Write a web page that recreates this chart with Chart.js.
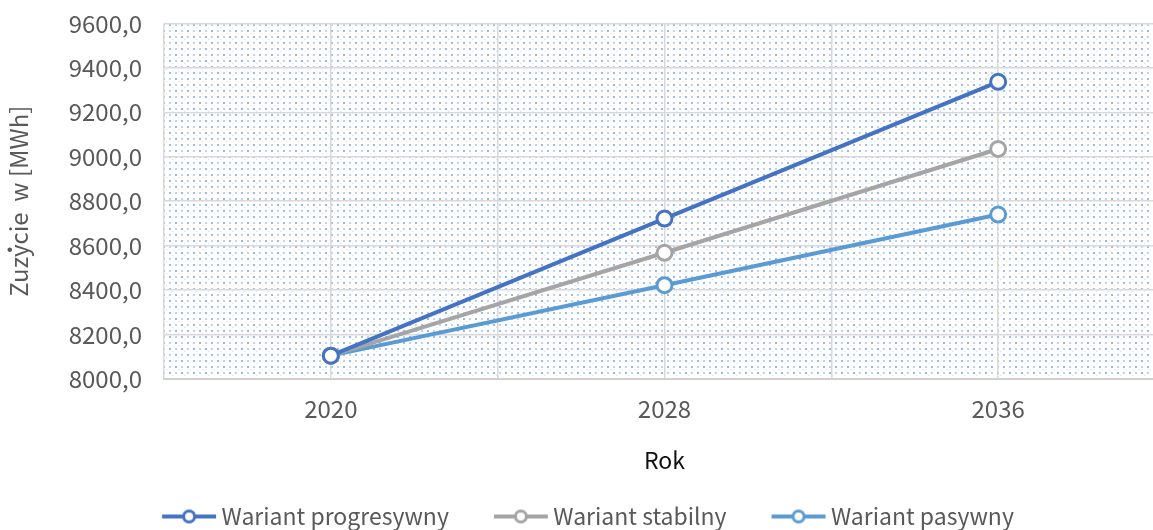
<!DOCTYPE html>
<html>
<head>
<meta charset="utf-8">
<script src="https://cdn.jsdelivr.net/npm/chart.js@4/dist/chart.umd.min.js"></script>
<style>
  html, body { margin: 0; padding: 0; background: #fff; overflow: hidden; }
  #wrap { width: 1153px; height: 530px; overflow: hidden; position: relative; }
  #chart { position: absolute; left: 0; top: -13px; }
</style>
</head>
<body>
<div id="wrap"><canvas id="chart" width="1180" height="551"></canvas></div>
<script>
// dane
const years = [2020, 2028, 2036];
const progresywny = [8105, 8722, 9337];
const stabilny = [8105, 8568, 9035];
const pasywny = [8105, 8422, 8740];
const seriesNames = ["Wariant progresywny", "Wariant stabilny", "Wariant pasywny"];
const seriesColors = ["#4472C4", "#A5A5A5", "#5B9BD5"];

const FONT = "'Noto Sans CJK JP', 'Noto Sans', sans-serif";

// ikona do legendy: linia z kółkiem, przesunięta w prawo blisko tekstu
function legendIcon(color) {
  const c = document.createElement("canvas");
  c.width = 100; c.height = 18;
  const ctx = c.getContext("2d");
  ctx.strokeStyle = color;
  ctx.lineWidth = 4;
  ctx.beginPath(); ctx.moveTo(42, 9); ctx.lineTo(96, 9); ctx.stroke();
  ctx.beginPath(); ctx.arc(69, 9, 5.5, 0, Math.PI * 2);
  ctx.fillStyle = "#fff"; ctx.fill();
  ctx.lineWidth = 3; ctx.stroke();
  return c;
}

// tło w kropki
function dotPattern() {
  const c = document.createElement("canvas");
  c.width = 12; c.height = 12;
  const ctx = c.getContext("2d");
  ctx.fillStyle = "#fff";
  ctx.fillRect(0, 0, 12, 12);
  ctx.fillStyle = "rgba(110,155,230,0.7)";
  ctx.fillRect(1, 1, 2, 2);
  ctx.fillRect(7, 7, 2, 2);
  ctx.fillStyle = "rgba(110,155,230,0.45)";
  ctx.fillRect(7, 1, 2, 2);
  ctx.fillRect(1, 7, 2, 2);
  ctx.fillStyle = "rgba(110,155,230,0.3)";
  ctx.fillRect(4, 4, 1, 1);
  ctx.fillRect(10, 10, 1, 1);
  return c;
}

const bgPlugin = {
  id: "bgPattern",
  afterLayout(chart) {
    // legenda trochę w lewo, jak w oryginale
    if (chart.legend) { chart.legend.left -= 18; chart.legend.right -= 18; }
  },
  beforeDraw(chart) {
    const { ctx, chartArea: a } = chart;
    ctx.save();
    ctx.fillStyle = ctx.createPattern(dotPattern(), "repeat");
    ctx.fillRect(a.left, a.top, a.right - a.left, a.bottom - a.top);
    ctx.restore();
  }
};

const allData = [progresywny, stabilny, pasywny];
const datasets = allData.map((vals, i) => ({
  label: seriesNames[i],
  data: years.map((y, j) => ({ x: y, y: vals[j] })),
  borderColor: seriesColors[i],
  backgroundColor: "#fff",
  borderWidth: 4,
  pointRadius: 7.5,
  pointBorderWidth: 3,
  pointBackgroundColor: "#fff",
  pointBorderColor: seriesColors[i],
  order: i,
  tension: 0
}));

const icons = seriesColors.map(legendIcon);

new Chart(document.getElementById("chart"), {
  type: "line",
  data: { datasets },
  plugins: [bgPlugin],
  options: {
    responsive: false,
    animation: false,
    layout: { padding: 0 },
    scales: {
      x: {
        type: "linear",
        min: 2016,
        max: 2040,
        afterBuildTicks(scale) {
          scale.ticks = [2016, 2020, 2024, 2028, 2032, 2036, 2040].map(v => ({ value: v }));
        },
        afterFit(scale) { scale.height = 113; },
        grid: { color: "#d9d9d9", lineWidth: 1.5, drawTicks: false },
        border: { color: "#d0d0d0", width: 2 },
        ticks: {
          padding: 15,
          color: "#595959",
          font: { family: FONT, size: 24 },
          callback: v => years.includes(v) ? String(v) : ""
        },
        title: {
          display: true,
          text: "Rok",
          color: "#111",
          font: { family: FONT, size: 23 },
          padding: { top: 0, bottom: 18 }
        }
      },
      y: {
        min: 8000,
        max: 9600,
        afterFit(scale) { scale.width = 164; },
        grid: { color: "#d9d9d9", lineWidth: 1.5, drawTicks: false },
        border: { display: false },
        ticks: {
          stepSize: 200,
          padding: 22,
          color: "#595959",
          font: { family: FONT, size: 24 },
          callback: v => v.toFixed(1).replace(".", ",")
        },
        title: {
          display: true,
          text: "Zużycie  w [MWh]",
          color: "#595959",
          font: { family: FONT, size: 24 },
          padding: { bottom: 6 }
        }
      }
    },
    plugins: {
      tooltip: { enabled: false },
      legend: {
        position: "bottom",
        align: "center",
        labels: {
          usePointStyle: true,
          pointStyleWidth: 80,
          boxHeight: 18,
          padding: 13,
          color: "#595959",
          font: { family: FONT, size: 23 },
          generateLabels(chart) {
            return chart.data.datasets.map((d, i) => ({
              text: d.label,
              pointStyle: icons[i],
              fillStyle: "#fff",
              strokeStyle: d.borderColor,
              lineWidth: 0,
              fontColor: "#595959",
              datasetIndex: i,
              hidden: false
            }));
          }
        }
      }
    }
  }
});
</script>
</body>
</html>
